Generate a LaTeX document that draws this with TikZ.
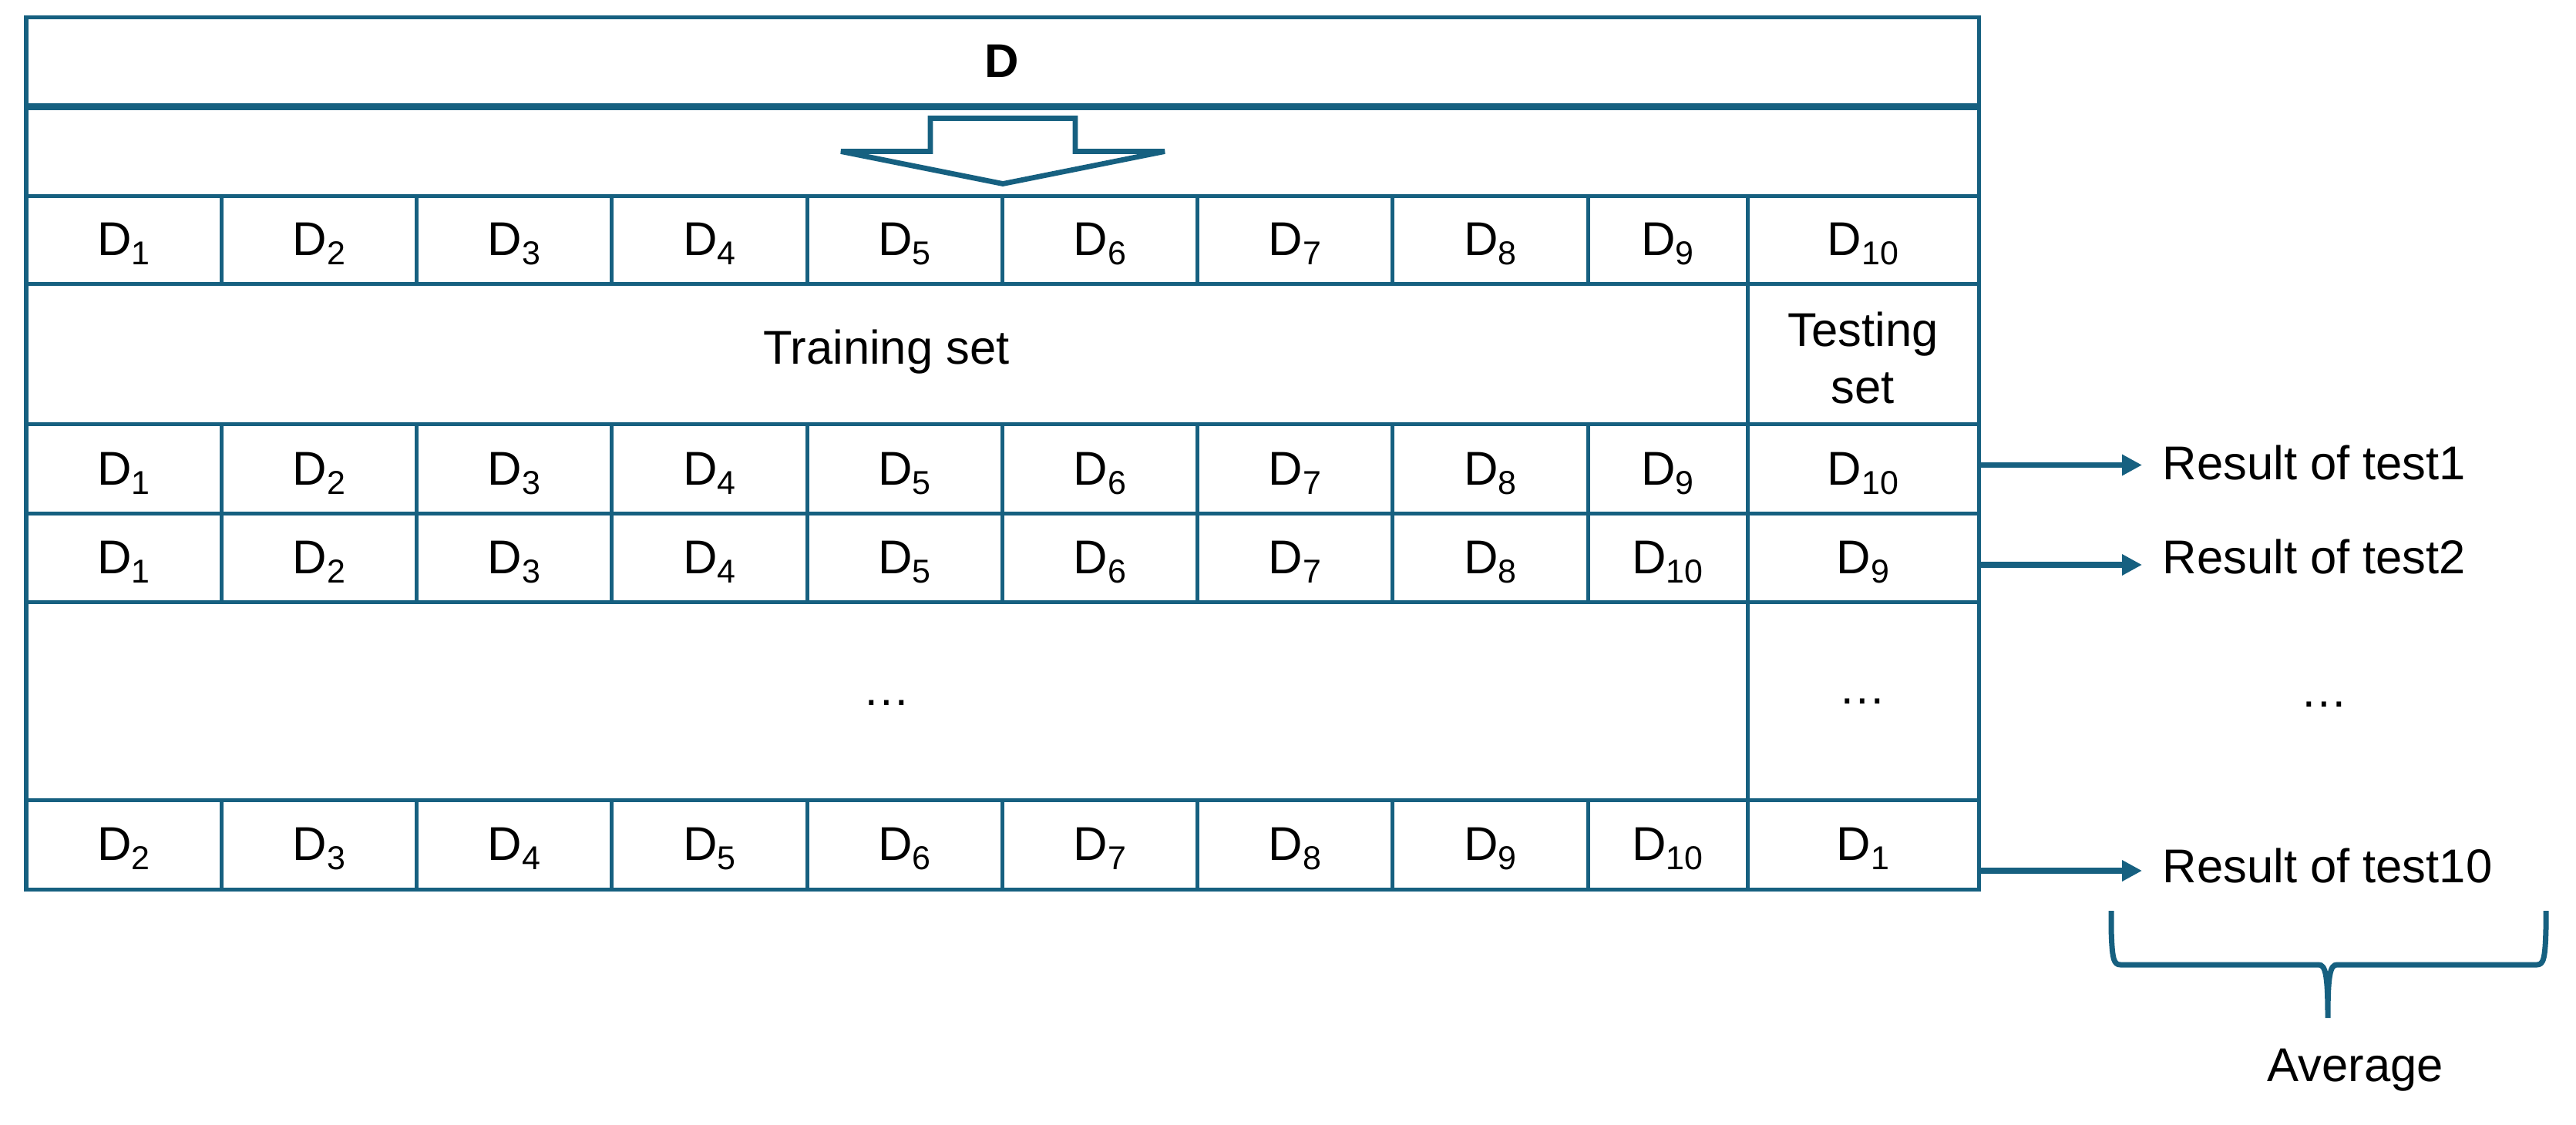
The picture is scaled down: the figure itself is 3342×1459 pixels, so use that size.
\documentclass[tikz,border=0pt]{standalone}
\usepackage{fontspec}
\setmainfont{Liberation Sans}
\usetikzlibrary{arrows.meta}
\definecolor{tb}{RGB}{22,96,128}
\newcommand\Dk[1]{D\raisebox{-0.12cm}{\fontsize{12.2}{12.2}\selectfont #1}}
\begin{document}
\begin{tikzpicture}[x=0.01cm,y=-0.01cm,
  grid/.style={draw=tb, line width=0.05cm},
  lbl/.style={inner sep=0pt, font=\fontsize{17.5}{21}\selectfont},
  res/.style={draw=tb, line width=0.075cm, -{Triangle[length=0.26cm,width=0.26cm]}},
  brace/.style={draw=tb, line width=0.07cm},
  blockarrow/.style={draw=tb, line width=0.068cm, fill=white}
]
\useasboundingbox (0,0) rectangle (3342,1459);

% horizontal rules
\foreach \y in {254.5,368.5,550,666,781.5,1038.5} \draw[grid] (34,\y) -- (2567,\y);
\draw[draw=tb, line width=0.088cm] (34,138.5) -- (2567,138.5);
% vertical rules
\foreach \x in {287.25,540.5,793.75,1047,1300.25,1553.5,1806.75,2060} {
  \draw[grid] (\x,254.5) -- (\x,368.5);
  \draw[grid] (\x,550) -- (\x,781.5);
  \draw[grid] (\x,1038.5) -- (\x,1154);
}
\draw[grid] (2267,254.5) -- (2267,1154);
\draw[grid] (34,22) rectangle (2567,1154);

% block arrow
\draw[blockarrow] (1207,153.5) -- (1395,153.5) -- (1395,196.5) -- (1511,196.5)
  -- (1301,238.5) -- (1091,196.5) -- (1207,196.5) -- cycle;

% header
\node[lbl, font=\fontsize{17.5}{21}\selectfont\bfseries, anchor=base] (D) at (1300,100) {D};

% rows of folds
\foreach \x [count=\i] in {160.6,413.9,667.1,920.4,1173.6,1426.9,1680.1,1933.4,2163.5,2417} {
  \node[lbl, anchor=base] (a\i) at (\x,331) {\Dk{\i}};
  \node[lbl, anchor=base] (t\i) at (\x,629) {\Dk{\i}};
}
\foreach \x/\l [count=\i] in {160.6/1,413.9/2,667.1/3,920.4/4,1173.6/5,1426.9/6,1680.1/7,1933.4/8,2163.5/10,2417/9}
  \node[lbl, anchor=base] (u\i) at (\x,744) {\Dk{\l}};
\foreach \x/\l [count=\i] in {160.6/2,413.9/3,667.1/4,920.4/5,1173.6/6,1426.9/7,1680.1/8,1933.4/9,2163.5/10,2417/1}
  \node[lbl, anchor=base] (z\i) at (\x,1116) {\Dk{\l}};

\node[lbl, anchor=base] (train) at (1150,472) {Training set};
\node[lbl, align=center, anchor=north] (test) at (2417,404) {Testing\\set};

\node[lbl, anchor=base] (dotsA) at (1150,915) {…};
\node[lbl, anchor=base] (dotsB) at (2416,913) {…};
\node[lbl, anchor=base] (dotsC) at (3015,917) {…};

% results
\node[lbl, anchor=base west] (r1) at (2805,622) {Result of test1};
\node[lbl, anchor=base west] (r2) at (2805,744) {Result of test2};
\node[lbl, anchor=base west] (r10) at (2805,1145) {Result of test10};

\coordinate (s1) at (2567,603.5);  \coordinate (e1) at (2779,603.5);
\coordinate (s2) at (2567,733);    \coordinate (e2) at (2779,733);
\coordinate (s10) at (2567,1130);  \coordinate (e10) at (2779,1130);
\draw[res] (s1) -- (e1);
\draw[res] (s2) -- (e2);
\draw[res] (s10) -- (e10);

% brace
\draw[brace] (2739,1182) -- (2739,1205) .. controls (2740,1244) and (2742,1252) .. (2751,1252)
  -- (3008,1252) .. controls (3017,1252) and (3020,1265) .. (3020,1321)
  .. controls (3020,1265) and (3023,1252) .. (3032,1252)
  -- (3291,1252) .. controls (3300,1252) and (3302,1244) .. (3303,1205) -- (3303,1182);

\node[lbl, anchor=base] (avg) at (3056,1403) {Average};
\end{tikzpicture}
\end{document}
